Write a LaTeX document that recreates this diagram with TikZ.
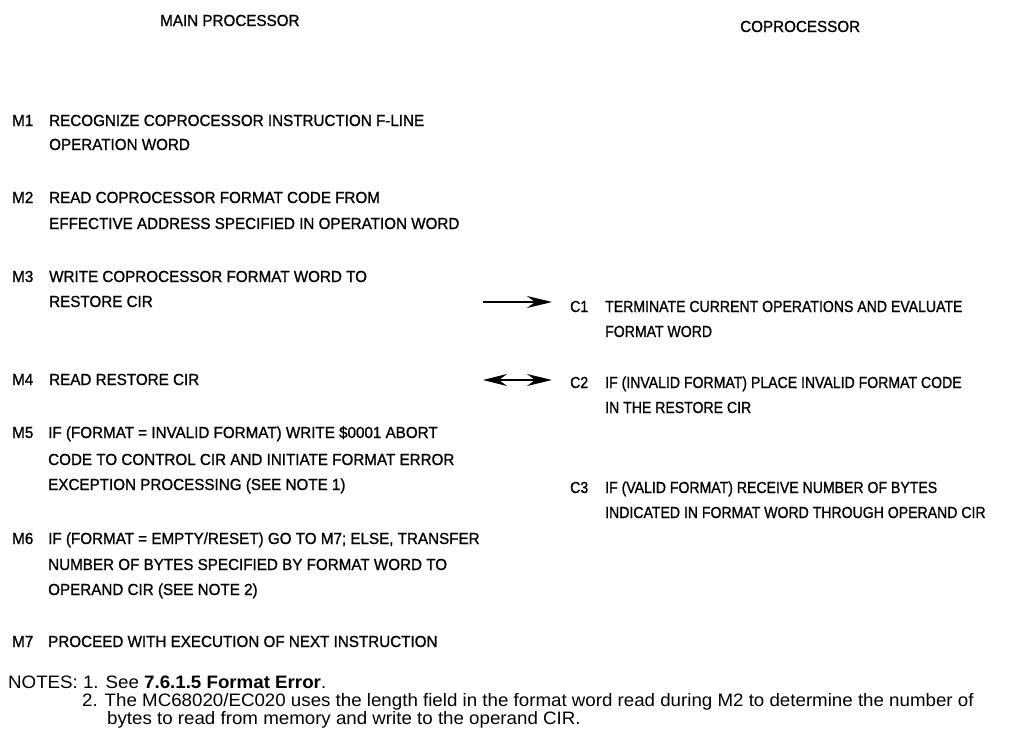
\documentclass[tikz,border=0pt]{standalone}
\usepackage{fontspec}
\setmainfont{Liberation Sans}
\newfontfamily\mfont[FakeStretch=0.95,FakeBold=1]{Liberation Sans}
\newfontfamily\cfont[FakeStretch=0.88,FakeBold=1]{Liberation Sans}
\newfontfamily\nfont[FakeStretch=1.04]{Liberation Sans}
\usetikzlibrary{arrows.meta}
\begin{document}
\begin{tikzpicture}[x=1pt,y=-1pt,
  mtxt/.style={anchor=base west, inner sep=0pt, font=\mfont\fontsize{16}{20}\selectfont},
  ctxt/.style={anchor=base west, inner sep=0pt, font=\cfont\fontsize{16}{20}\selectfont},
  ntxt/.style={anchor=base west, inner sep=0pt, font=\nfont\fontsize{18}{20}\selectfont},
  flow/.style={line width=1.3pt, -{Stealth[length=25pt,width=12pt,inset=8pt]}},
  flowboth/.style={line width=1.3pt, {Stealth[length=24pt,width=12pt,inset=8pt]}-{Stealth[length=25pt,width=12pt,inset=8pt]}}
]
\useasboundingbox (0,0) rectangle (1035,728);
% headers
\node[mtxt] (hm) at (160,26) {MAIN PROCESSOR};
\node[mtxt] (hc) at (740,32) {COPROCESSOR};
% main processor steps
\node[mtxt] (m1l) at (12,126) {M1};
\node[mtxt] (m1a) at (49,126) {RECOGNIZE COPROCESSOR INSTRUCTION F-LINE};
\node[mtxt] (m1b) at (49,150) {OPERATION WORD};
\node[mtxt] (m2l) at (12,203) {M2};
\node[mtxt] (m2a) at (49,203) {READ COPROCESSOR FORMAT CODE FROM};
\node[mtxt] (m2b) at (49,229) {EFFECTIVE ADDRESS SPECIFIED IN OPERATION WORD};
\node[mtxt] (m3l) at (12,282) {M3};
\node[mtxt] (m3a) at (49,282) {WRITE COPROCESSOR FORMAT WORD TO};
\node[mtxt] (m3b) at (49,307) {RESTORE CIR};
\node[mtxt] (m4l) at (12,385) {M4};
\node[mtxt] (m4a) at (49,385) {READ RESTORE CIR};
\node[mtxt] (m5l) at (12,438) {M5};
\node[mtxt] (m5a) at (48,438) {IF (FORMAT = INVALID FORMAT) WRITE \$0001 ABORT};
\node[mtxt] (m5b) at (48,465) {CODE TO CONTROL CIR AND INITIATE FORMAT ERROR};
\node[mtxt] (m5c) at (48,490) {EXCEPTION PROCESSING (SEE NOTE 1)};
\node[mtxt] (m6l) at (12,544) {M6};
\node[mtxt] (m6a) at (48,544) {IF (FORMAT = EMPTY/RESET) GO TO M7; ELSE, TRANSFER};
\node[mtxt] (m6b) at (48,570) {NUMBER OF BYTES SPECIFIED BY FORMAT WORD TO};
\node[mtxt] (m6c) at (48,595) {OPERAND CIR (SEE NOTE 2)};
\node[mtxt] (m7l) at (12,647) {M7};
\node[mtxt] (m7a) at (48,647) {PROCEED WITH EXECUTION OF NEXT INSTRUCTION};
% coprocessor steps
\node[ctxt] (c1l) at (570,312) {C1};
\node[ctxt] (c1a) at (605,312) {TERMINATE CURRENT OPERATIONS AND EVALUATE};
\node[ctxt] (c1b) at (605,337) {FORMAT WORD};
\node[ctxt] (c2l) at (570,388) {C2};
\node[ctxt] (c2a) at (605,388) {IF (INVALID FORMAT) PLACE INVALID FORMAT CODE};
\node[ctxt] (c2b) at (605,413) {IN THE RESTORE CIR};
\node[ctxt] (c3l) at (570,493) {C3};
\node[ctxt] (c3a) at (605,493) {IF (VALID FORMAT) RECEIVE NUMBER OF BYTES};
\node[ctxt] (c3b) at (605,518) {INDICATED IN FORMAT WORD THROUGH OPERAND CIR};
% arrows
\coordinate (a1s) at (483,302);
\coordinate (a1e) at (552,302);
\coordinate (a2s) at (483,380);
\coordinate (a2e) at (552,380);
\draw[flow] (a1s) -- (a1e);
\draw[flowboth] (a2s) -- (a2e);
% notes
\node[ntxt] (n0) at (8,688) {NOTES: 1. See \textbf{7.6.1.5 Format Error}.};
\node[ntxt] (n1) at (82,706) {2. The MC68020/EC020 uses the length field in the format word read during M2 to determine the number of};
\node[ntxt] (n2) at (107,724) {bytes to read from memory and write to the operand CIR.};
\end{tikzpicture}
\end{document}
